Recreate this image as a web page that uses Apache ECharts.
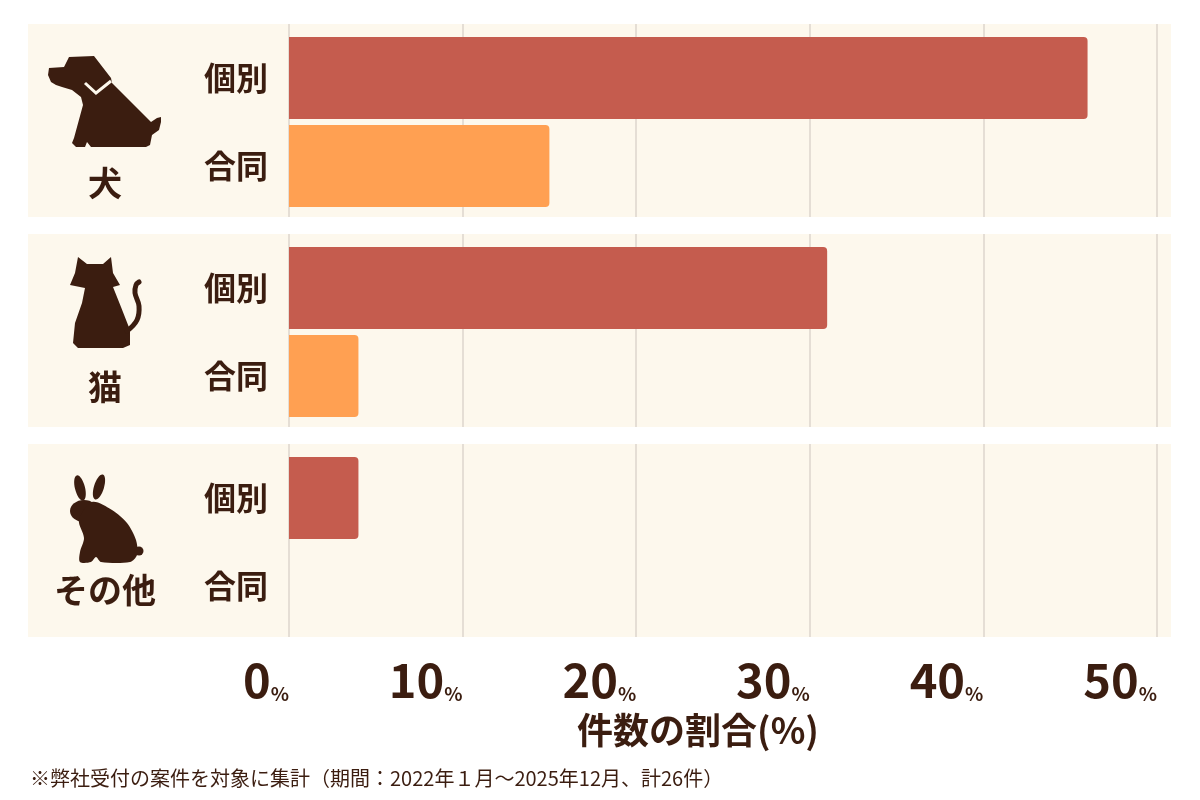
<!DOCTYPE html>
<html>
<head>
<meta charset="utf-8">
<script src="https://cdn.jsdelivr.net/npm/echarts@6/dist/echarts.min.js"></script>
<style>
  html, body { margin: 0; padding: 0; background: #fff; }
  #main { width: 1200px; height: 800px; }
</style>
</head>
<body>
<div id="main"></div>
<script>
// data
var groups = ['犬', '猫', 'その他'];
var kinds = ['個別', '合同'];
var kobetsu = [46, 31, 4];   // 個別 (%)
var goudou = [15, 4, 0];     // 合同 (%)
var xTicks = [0, 10, 20, 30, 40, 50];
var axisTitle = '件数の割合(%)';
var note = '※弊社受付の案件を対象に集計（期間：2022年１月～2025年12月、計26件）';

var FONT = '"Noto Sans CJK JP", "Noto Sans", sans-serif';
var ink = '#3b1d10';
var panelBg = '#fdf8ed';
var colors = ['#c55c4e', '#ffa052'];

var chart = echarts.init(document.getElementById('main'));

var grids = [], xAxes = [], yAxes = [], series = [], graphics = [];

groups.forEach(function (g, i) {
  var panelTop = 24 + i * 210;
  var last = i === groups.length - 1;

  // panel behind each group
  graphics.push({
    type: 'rect', z: -10,
    shape: { x: 28, y: panelTop, width: 1143, height: 193 },
    style: { fill: panelBg }
  });
  graphics.push({
    type: 'text', z: 5,
    style: {
      text: g, x: 105, y: [183, 387, 590][i],
      fill: ink, fontSize: 34, fontWeight: 'bold', fontFamily: FONT,
      textAlign: 'center', textVerticalAlign: 'middle'
    }
  });

  // background grid (split lines over whole panel)
  grids.push({ left: 289, right: 43, top: panelTop, height: 193 });
  xAxes.push({
    gridIndex: i * 2, type: 'value', min: xTicks[0], max: xTicks[xTicks.length - 1], interval: 10,
    axisLine: { show: false }, axisTick: { show: false },
    splitLine: { show: true, lineStyle: { color: '#ddd6cd', width: 1.5 } },
    axisLabel: {
      show: last, align: 'right', margin: 20,
      formatter: function (v) { return '{n|' + v + '}{p|%}'; },
      rich: {
        n: { fontSize: 47, fontWeight: 'bold', color: ink, fontFamily: FONT, lineHeight: 46 },
        p: { fontSize: 19, fontWeight: 'bold', color: ink, fontFamily: FONT, verticalAlign: 'bottom', lineHeight: 30 }
      }
    },
    name: last ? axisTitle : '',
    nameLocation: 'middle', nameGap: 75,
    nameTextStyle: { fontSize: 36, fontWeight: 'bold', color: ink, fontFamily: FONT, padding: [0, 50, 0, 0] }
  });
  yAxes.push({ gridIndex: i * 2, type: 'value', show: false, min: 0, max: 1 });

  // bar grid
  grids.push({ left: 289, right: 43, top: 34 + i * 210, height: 176 });
  xAxes.push({ gridIndex: i * 2 + 1, type: 'value', min: 0, max: 50, interval: 10, show: false, splitLine: { show: false } });
  yAxes.push({
    gridIndex: i * 2 + 1, type: 'category', inverse: true, data: kinds,
    axisLine: { show: false }, axisTick: { show: false },
    axisLabel: { margin: 21, fontSize: 32, fontWeight: 'bold', color: ink, fontFamily: FONT }
  });
  series.push({
    type: 'bar', xAxisIndex: i * 2 + 1, yAxisIndex: i * 2 + 1,
    barWidth: 82,
    itemStyle: { borderRadius: [0, 4, 4, 0] },
    data: [
      { value: kobetsu[i], itemStyle: { color: colors[0] } },
      { value: goudou[i], itemStyle: { color: colors[1] } }
    ]
  });
});

// animal icons
// dog
graphics.push({
  type: 'polygon', z: 5,
  shape: { points: [[49, 68], [64, 67], [69, 57], [94, 56], [111, 78], [112, 83], [151, 122], [157, 118],
    [161, 117], [161, 122], [159, 130], [152, 135], [150, 145], [146, 147], [91, 147], [87, 142], [85, 147],
    [76, 147], [72, 143], [74, 138], [83, 105], [81, 97], [72, 90], [62, 87], [56, 85], [51, 82], [48, 75]] },
  style: { fill: ink }
});
graphics.push({
  type: 'polyline', z: 6,
  shape: { points: [[85, 83], [96, 93], [111, 81]] },
  style: { stroke: panelBg, lineWidth: 3, fill: null }
});
// cat
graphics.push({
  type: 'polygon', z: 5,
  shape: { points: [[78, 257], [87, 264], [103, 264], [111, 257], [113, 273], [120, 285], [113, 287],
    [121, 307], [130, 330], [130, 345], [123, 348], [78, 348], [73, 343], [75, 323], [82, 303], [85, 288],
    [70, 285], [75, 273]] },
  style: { fill: ink }
});
graphics.push({
  type: 'polyline', z: 5,
  shape: { points: [[127, 331], [137, 320], [139, 306], [135, 293], [136, 285], [139, 282]], smooth: 0.4 },
  style: { stroke: ink, lineWidth: 5, lineCap: 'round', fill: null }
});
// rabbit
graphics.push({ type: 'ellipse', z: 5, shape: { cx: 80, cy: 488, rx: 5, ry: 13 }, rotation: 0.25, originX: 80, originY: 488, style: { fill: ink } });
graphics.push({ type: 'ellipse', z: 5, shape: { cx: 99, cy: 487, rx: 5, ry: 13 }, rotation: -0.3, originX: 99, originY: 487, style: { fill: ink } });
graphics.push({ type: 'ellipse', z: 5, shape: { cx: 84, cy: 511, rx: 14, ry: 11 }, style: { fill: ink } });
graphics.push({
  type: 'polygon', z: 5,
  shape: { points: [[92, 502], [112, 510], [127, 523], [136, 540], [137, 555], [130, 562], [101, 562],
    [96, 557], [91, 562], [80, 562], [80, 552], [84, 538], [79, 520]], smooth: 0.3 },
  style: { fill: ink }
});
graphics.push({ type: 'circle', z: 5, shape: { cx: 139, cy: 551, r: 4.5 }, style: { fill: ink } });

// footnote
graphics.push({
  type: 'text', z: 5,
  style: {
    text: note, x: 30, y: 778, fill: ink, fontSize: 20, fontFamily: FONT,
    textAlign: 'left', textVerticalAlign: 'middle'
  }
});

chart.setOption({
  backgroundColor: '#fff',
  animation: false,
  grid: grids,
  xAxis: xAxes,
  yAxis: yAxes,
  series: series,
  graphic: { elements: graphics }
});
</script>
</body>
</html>
